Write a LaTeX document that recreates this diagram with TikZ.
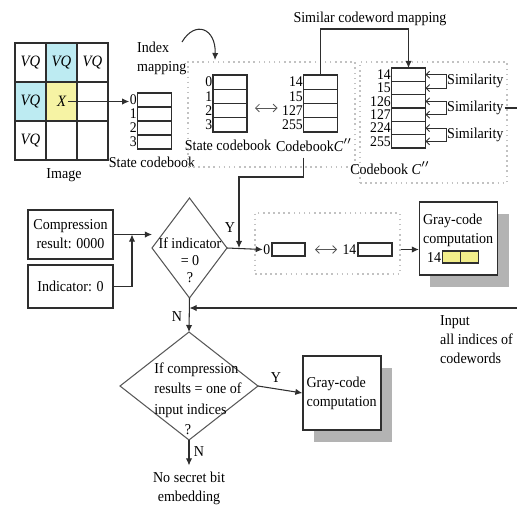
\documentclass[tikz,border=0pt]{standalone}
\usepackage{fontspec}
\setmainfont[FakeStretch=0.93]{Liberation Serif}
\usepackage{tikz}
\usetikzlibrary{arrows.meta, positioning, shapes.geometric, calc, shadows}
\definecolor{Ink}{HTML}{2E2E2E}
\definecolor{Dots}{HTML}{C2C2C2}
\definecolor{CellCyan}{HTML}{BDEBF2}
\definecolor{CellYellow}{HTML}{F6F3A4}
\definecolor{BitYellow}{HTML}{F2EE8A}
\definecolor{Shade}{HTML}{B3B3B3}

\begin{document}
\begin{tikzpicture}[
  x=0.02cm, y=-0.02cm,
  font=\fontsize{8.6}{10.8}\selectfont,
  pixel/.style={draw=Ink, line width=0.6pt, minimum width=0.62cm, minimum height=0.78cm, inner sep=0, outer sep=0, font=\fontsize{9}{10}\selectfont\itshape},
  book/.style={draw=Ink, line width=0.6pt, inner sep=0, outer sep=0, minimum width=0.68cm},
  cbline/.style={draw=Ink, line width=0.6pt},
  idx/.style={anchor=east, inner sep=0.2pt, font=\fontsize{8.4}{8}\selectfont},
  group/.style={draw=Dots, dotted, line width=0.9pt, inner sep=0},
  box/.style={draw=Ink, line width=0.7pt, fill=white, align=center, inner sep=2pt},
  graybox/.style={box, align=left, text width=1.42cm, drop shadow={shadow xshift=0.22cm, shadow yshift=-0.24cm, fill=Shade, opacity=1}},
  decision/.style={diamond, draw=Ink!80, line width=0.6pt, inner sep=0, outer sep=0},
  arrow/.style={-{Latex[length=4pt, width=3.6pt]}, line width=0.6pt, draw=Ink},
  twoway/.style={{Straight Barb[length=2.2pt, width=4.4pt]}-{Straight Barb[length=2.2pt, width=4.4pt]}, line width=0.45pt, draw=Ink!80},
  hook/.style={{Straight Barb[length=2pt, width=4pt]}-{Straight Barb[length=2pt, width=4pt]}, line width=0.5pt, draw=Ink},
  tag/.style={inner sep=1pt}
]
\useasboundingbox (0,0) rectangle (517,508);

\foreach \r/\c/\fc/\t in {1/1/white/VQ, 1/2/CellCyan/VQ, 1/3/white/VQ, 2/1/CellCyan/VQ, 2/2/CellYellow/X, 2/3/white/{}, 3/1/white/VQ, 3/2/white/{}, 3/3/white/{}}
  \node[pixel, fill=\fc] (px\r\c) at ({31*\c-0.5},{39*\r+23.5}) {\t};
\node (imglab) at (64,175) {Image};
\node[anchor=west, align=left] (mapt) at (131,58) {Index\\mapping};

\node[book, minimum height=1.12cm] (idxcb) at (154.5,121) {};
\foreach \i in {1,2,3} \draw[cbline] (idxcb.north west) ++(0,14*\i) -- ++(34,0);
\foreach \d [count=\i from 0] in {0,1,2,3} \node[idx] (ia\i) at ($(idxcb.north west)+(0,14*\i+7)$) {\d};
\node (idxlab) at (152,162) {State codebook};
\draw[arrow, shorten <=0.13cm] (px22.center) -- (px22.center -| ia0.west);

\coordinate (curvestart) at (182,42);
\coordinate (curveend) at (215,60);
\draw[arrow] (curvestart) .. controls (195,20) and (216,28) .. (curveend);

\node[group, minimum width=3.34cm, minimum height=2.1cm] (grp1) at (271.5,114.5) {};
\node[group, minimum width=2.94cm, minimum height=2.42cm] (grp2) at (433.5,122.5) {};
\node[group, minimum width=2.9cm, minimum height=1.22cm] (grp3) at (327.5,243.5) {};

\node[book, minimum height=1.14cm] (statecb) at (230,103.5) {};
\foreach \i in {1,2,3} \draw[cbline] (statecb.north west) ++(0,14.25*\i) -- ++(34,0);
\foreach \d [count=\i from 0] in {0,1,2,3} \node[idx] (sa\i) at ($(statecb.north west)+(0,14.25*\i+7.1)$) {\d};
\node[book, minimum height=1.14cm] (cbdd) at (320.5,103.5) {};
\foreach \i in {1,2,3} \draw[cbline] (cbdd.north west) ++(0,14.25*\i) -- ++(34,0);
\foreach \d [count=\i from 0] in {14,15,127,255} \node[idx] (da\i) at ($(cbdd.north west)+(0,14.25*\i+7.1)$) {\d};
\node (statelab) at (228,145) {State codebook};
\node (cddlab) at (314,145) {Codebook\textit{C}$''$};
\draw[twoway, shorten <=0.16cm, shorten >=0.52cm] ([yshift=-0.09cm]statecb.east) -- ([yshift=-0.09cm]cbdd.west);

\node[book, minimum height=1.6cm] (cbc) at (408.5,108) {};
\foreach \i in {1,...,5} \draw[cbline] (cbc.north west) ++(0,13.33*\i) -- ++(34,0);
\foreach \d [count=\i from 0] in {14,15,126,127,224,255} \node[idx] (ca\i) at ($(cbc.north west)+(0,13.33*\i+6.67)$) {\d};
\node (clab) at (390,168) {Codebook \textit{C}$''$};

\node (maptxt) at (370,19) {Similar codeword mapping};
\coordinate (mapbend) at (370,29);
\draw[arrow] (cbdd.north) |- (mapbend) -| (cbc.north);

\foreach \k in {0,1,2} {
  \coordinate (st\k) at (446,{74.67+26.67*\k});
  \coordinate (sb\k) at (446,{88+26.67*\k});
  \node[anchor=west, inner sep=0.5pt] (sim\k) at (446,{81.33+26.67*\k}) {Similarity};
  \draw[hook] (cbc.east |- st\k) -- (st\k) -- (sb\k) -- (cbc.east |- sb\k);
}
\coordinate (rightedge) at (517,108);
\draw[cbline] (sim1.east) -- (rightedge);

\node[box, minimum width=1.7cm, minimum height=0.98cm] (comp) at (70.5,234.5) {Compression\\result: 0000};
\node[box, minimum width=1.7cm, minimum height=0.86cm] (ind) at (70.5,286.5) {Indicator: 0};
\node[decision, minimum width=1.5cm, minimum height=2cm] (ifind) at (189.5,248) {};
\node[align=center, font=\fontsize{8.6}{9.6}\selectfont] (ifindtxt) at (190,260) {If indicator\\= 0\\?};
\coordinate (injoin) at (132,234.5);
\draw[arrow] (comp.east) -- (comp.east -| ifind.west);
\draw[arrow] (ind.east) -| (injoin);

\node[idx] (zerolab) at (271,249.5) {0};
\node[book, minimum width=0.66cm, minimum height=0.26cm] (zerobox) at (288.5,249.5) {};
\node[idx] (ftlab) at (357,249.5) {14};
\node[book, minimum width=0.68cm, minimum height=0.26cm] (ftbox) at (375,249.5) {};
\draw[twoway, shorten <=0.2cm, shorten >=0.42cm] (zerobox.east) -- (ftbox.west);
\draw[arrow] (ifind.east) -- (zerolab.west);

\coordinate (ybend) at (239,177);
\coordinate (yjoin) at (239,248);
\draw[arrow] (cddlab.south -| cbdd.west) |- (ybend) -- (yjoin);
\node[tag] (ylab1) at (230,228) {Y};

\node[graybox, minimum height=1.46cm] (gray1) at (458.5,238.5) {Gray-code\\computation\\\hspace*{0.08cm}14};
\node[book, fill=BitYellow, minimum width=0.72cm, minimum height=0.24cm] (bits) at (460.5,257) {};
\draw[cbline] (bits.north) -- (bits.south);
\draw[arrow] (grp3.east |- ftbox) -- (gray1.west |- ftbox);

\node[decision, minimum width=2.76cm, minimum height=2.16cm] (ifcomp) at (189,386) {};
\node[inner sep=0, font=\fontsize{8.6}{11.5}\selectfont] (ifcomptxt) at (198,400) {\begin{tabular}{@{}l@{}}If compression\\results = one of\\input indices\\\multicolumn{1}{@{}c@{}}{?\hspace*{0.4cm}}\end{tabular}};
\draw[arrow] (ifind.south) -- (ifcomp.north);
\coordinate (inputedge) at (517,308);
\draw[arrow] (inputedge) -- (ifind.south |- inputedge);
\node[tag] (nlab1) at (177,317) {N};
\node[anchor=north west, align=left] (inputtxt) at (434,309) {Input\\all indices of\\codewords};

\node[graybox, minimum height=1.48cm] (gray2) at (342,393) {Gray-code\\computation};
\draw[arrow] (ifcomp.east) -- (gray2.west);
\node[tag] (ylab2) at (276,378) {Y};

\node[align=center] (nosecret) at (189,488) {No secret bit\\embedding};
\draw[arrow] (ifcomp.south) -- (nosecret.north);
\node[tag] (nlab2) at (199,452) {N};
\end{tikzpicture}
\end{document}
